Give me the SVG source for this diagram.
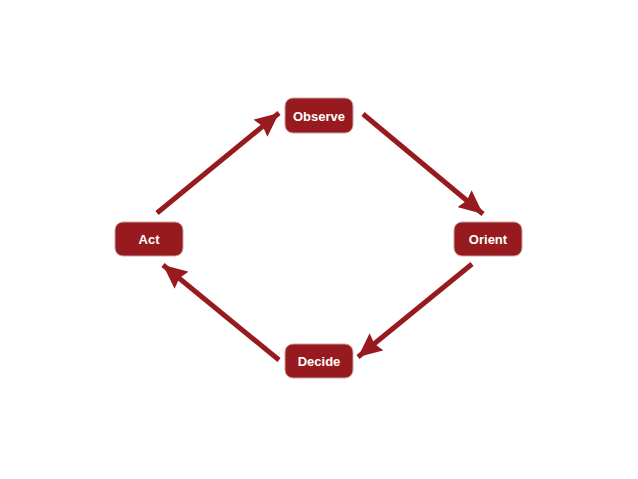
<svg xmlns="http://www.w3.org/2000/svg" width="638" height="479" viewBox="0 0 638 479">
<style>
.node rect{fill:#971b1e;stroke:#c9a3a3;stroke-width:1}
.node text{fill:#fff;font-family:"Liberation Sans",Arial,sans-serif;font-weight:bold;font-size:13px;text-anchor:middle;dominant-baseline:central}
.conn line{stroke:#971b1e;stroke-width:5;marker-end:url(#ah)}
</style>
<defs>
<marker id="ah" markerUnits="userSpaceOnUse" markerWidth="26" markerHeight="22" refX="24" refY="11" orient="auto">
<path d="M0,0 L24,11 L0,22 L3,11 Z" fill="#971b1e"/>
</marker>
</defs>
<rect width="638" height="479" fill="#fff"/>
<g class="conn">
<line x1="157" y1="213" x2="279" y2="113"/>
<line x1="363" y1="114" x2="483" y2="214"/>
<line x1="472" y1="264" x2="358" y2="357"/>
<line x1="279" y1="360" x2="163" y2="265"/>
</g>
<g id="observe" class="node"><rect x="285" y="98" width="68" height="35" rx="8"/><text x="319" y="116">Observe</text></g>
<g id="act" class="node"><rect x="115" y="222" width="68" height="34" rx="8"/><text x="149" y="239">Act</text></g>
<g id="orient" class="node"><rect x="454" y="222" width="68" height="34" rx="8"/><text x="488" y="239">Orient</text></g>
<g id="decide" class="node"><rect x="285" y="344" width="68" height="34" rx="8"/><text x="319" y="361">Decide</text></g>
</svg>
